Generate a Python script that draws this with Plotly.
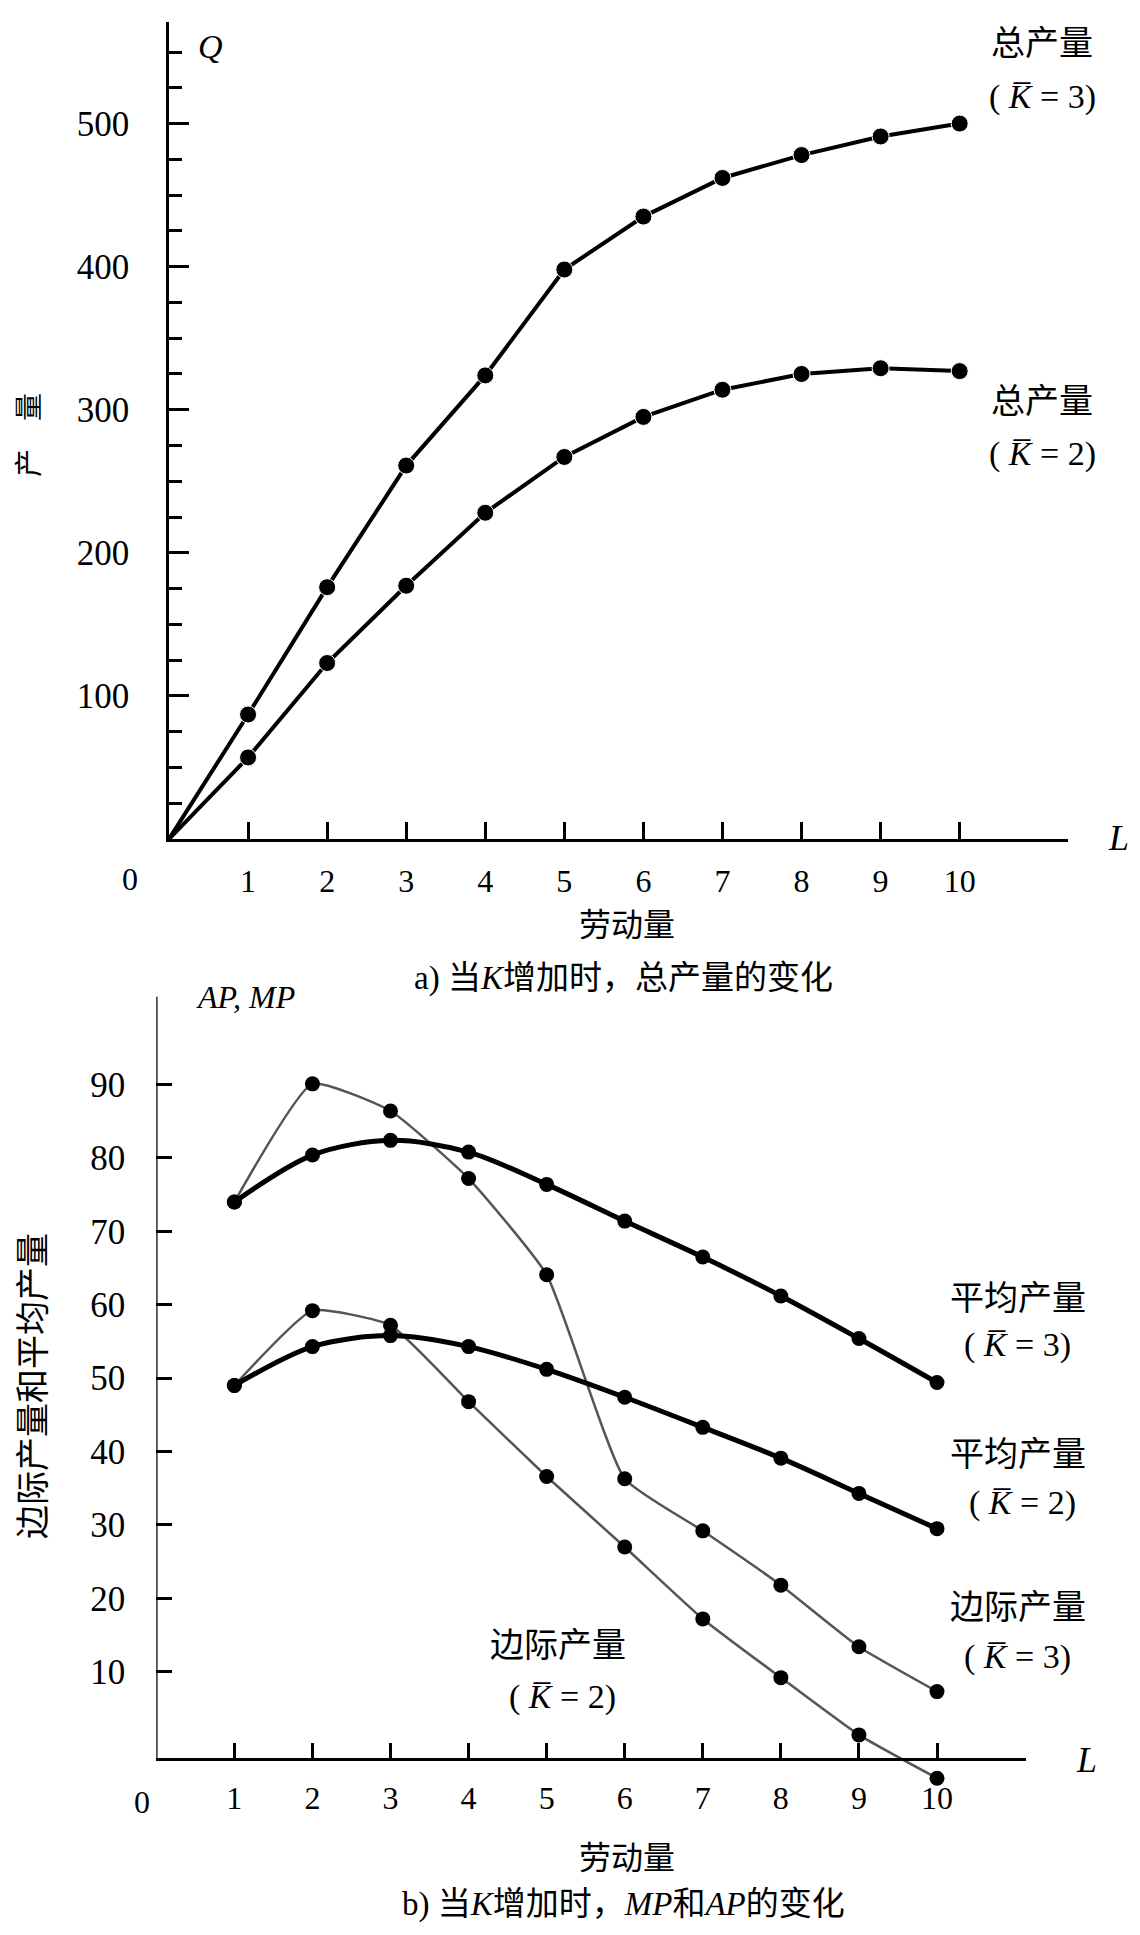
import plotly.graph_objects as go

# page viewport and the default 8px body margin of the html page
VW, VH = 1140, 1935
OFF = 8
W, H = VW - OFF, VH - OFF

# ---------- data ----------
labor_tp = [0, 1, 2, 3, 4, 5, 6, 7, 8, 9, 10]
tp_k3 = [0, 87, 176, 261, 324, 398, 435, 462, 478, 491, 500]
tp_k2 = [0, 57, 123, 177, 228, 267, 295, 314, 325, 329, 327]

labor = [1, 2, 3, 4, 5, 6, 7, 8, 9, 10]
ap_k3 = [74, 80.4, 82.4, 80.8, 76.4, 71.4, 66.5, 61.2, 55.4, 49.4]
ap_k2 = [49, 54.3, 55.8, 54.3, 51.2, 47.4, 43.3, 39.1, 34.3, 29.5]
mp_k3 = [74, 90.1, 86.4, 77.2, 64.1, 36.3, 29.2, 21.8, 13.4, 7.3]
mp_k2 = [49, 59.2, 57.2, 46.8, 36.6, 27.0, 17.2, 9.2, 1.4, -4.5]

top_yticks = [100, 200, 300, 400, 500]
bot_yticks = [10, 20, 30, 40, 50, 60, 70, 80, 90]
xticks = [1, 2, 3, 4, 5, 6, 7, 8, 9, 10]

FONT = "Liberation Serif, Noto Sans CJK SC, serif"
KBAR = "<i>K\u0305</i>"


def px(x):
    return (x - OFF) / W


def py(y):
    return 1 - (y - OFF) / H


fig = go.Figure()

# top chart traces (no marker at the origin)
tp_marker_sizes = [0] + [17] * (len(labor_tp) - 1)
for ser in (tp_k3, tp_k2):
    fig.add_trace(go.Scatter(
        x=labor_tp, y=ser, mode="lines+markers",
        line=dict(color="black", width=4),
        marker=dict(color="black", size=tp_marker_sizes, opacity=1),
        xaxis="x", yaxis="y", cliponaxis=False, hoverinfo="skip"))

# bottom chart traces
for ser in (mp_k3, mp_k2):
    fig.add_trace(go.Scatter(
        x=labor, y=ser, mode="lines+markers",
        line=dict(color="#555555", width=2.5, shape="spline", smoothing=0.45),
        marker=dict(color="black", size=15),
        xaxis="x2", yaxis="y2", cliponaxis=False, hoverinfo="skip"))
for ser in (ap_k3, ap_k2):
    fig.add_trace(go.Scatter(
        x=labor, y=ser, mode="lines+markers",
        line=dict(color="black", width=5, shape="spline", smoothing=0.9),
        marker=dict(color="black", size=15),
        xaxis="x2", yaxis="y2", cliponaxis=False, hoverinfo="skip"))

tickfont_x = dict(family=FONT, size=32, color="black")
tickfont_y = dict(family=FONT, size=35, color="black")

bot_y_range = [-6, 102]
bot_top_px, bot_bot_px = 996.5, 1789.2
axis_px = 1759.0

fig.update_layout(
    width=W, height=H, autosize=False,
    margin=dict(l=0, r=0, t=0, b=0, pad=0),
    paper_bgcolor="white", plot_bgcolor="white",
    showlegend=False,
    font=dict(family=FONT, color="black"),
    xaxis=dict(
        domain=[px(169), px(1068)], range=[0, 11.37], anchor="y",
        automargin=False,
        showline=True, linecolor="black", linewidth=2.5,
        showgrid=False, zeroline=False,
        tickvals=xticks, ticktext=[str(v) for v in xticks],
        ticks="inside", ticklen=17, tickwidth=2.5, tickcolor="black",
        tickfont=tickfont_x, ticklabelstandoff=12),
    yaxis=dict(
        domain=[py(839), py(22)], range=[0, 571], anchor="x",
        automargin=False,
        showline=True, linecolor="black", linewidth=2.5,
        showgrid=False, zeroline=False,
        tickvals=top_yticks, ticktext=[str(v) for v in top_yticks],
        ticks="inside", ticklen=20, tickwidth=2.5, tickcolor="black",
        tickfont=tickfont_y, ticklabelstandoff=30,
        minor=dict(dtick=25, tick0=0, ticks="inside", ticklen=13,
                   tickwidth=2.5, tickcolor="black", showgrid=False)),
    xaxis2=dict(
        domain=[px(156.3), px(1026)], range=[0, 11.14],
        anchor="free", position=py(axis_px), automargin=False,
        showline=True, linecolor="black", linewidth=2.5,
        showgrid=False, zeroline=False,
        tickvals=xticks, ticktext=[str(v) for v in xticks],
        ticks="inside", ticklen=15, tickwidth=2.5, tickcolor="black",
        tickfont=tickfont_x, ticklabelstandoff=10),
    yaxis2=dict(
        domain=[py(bot_bot_px), py(bot_top_px)], range=bot_y_range, anchor="x2",
        automargin=False,
        showline=False, showgrid=False, zeroline=False,
        tickvals=bot_yticks, ticktext=[str(v) for v in bot_yticks],
        ticks="inside", ticklen=16, tickwidth=2.5, tickcolor="black",
        tickfont=tickfont_y, ticklabelstandoff=30),
)

# bottom y-axis line (starts at the x-axis which sits slightly below zero)
fig.add_shape(type="line", xref="x2", yref="y2", x0=0, x1=0, y0=-2, y1=102,
              line=dict(color="black", width=2.5))


def ann(x, y, text, size=30, angle=0, xanchor="center"):
    fig.add_annotation(x=px(x), y=py(y), xref="paper", yref="paper",
                       text=text, showarrow=False, textangle=angle,
                       xanchor=xanchor, yanchor="middle",
                       font=dict(family=FONT, size=size, color="black"))


LBL = 34
# top chart texts
ann(210, 47, "<i>Q</i>", 34)
ann(130, 879, "0", 32)
ann(1118, 838, "<i>L</i>", 36)
ann(627, 925, "劳动量", 32)
ann(623, 978, "a) 当<i>K</i>增加时，总产量的变化", 33)
ann(29, 435, "产    量", 28, angle=-90)
ann(1042, 43, "总产量", LBL)
ann(1042, 97, "( " + KBAR + " = 3)", LBL)
ann(1042, 401, "总产量", LBL)
ann(1042, 454, "( " + KBAR + " = 2)", LBL)

# bottom chart texts
ann(245, 997, "<i>AP, MP</i>", 32)
ann(142, 1802, "0", 32)
ann(1086, 1760, "<i>L</i>", 36)
ann(627, 1858, "劳动量", 32)
ann(623, 1904, "b) 当<i>K</i>增加时，<i>MP</i>和<i>AP</i>的变化", 33)
ann(33, 1386, "边际产量和平均产量", 34, angle=-90)
ann(1018, 1298, "平均产量", LBL)
ann(1017, 1345, "( " + KBAR + " = 3)", LBL)
ann(1018, 1454, "平均产量", LBL)
ann(1022, 1503, "( " + KBAR + " = 2)", LBL)
ann(1018, 1607, "边际产量", LBL)
ann(1017, 1657, "( " + KBAR + " = 3)", LBL)
ann(558, 1645, "边际产量", LBL)
ann(562, 1697, "( " + KBAR + " = 2)", LBL)

fig.write_html("out.html")
